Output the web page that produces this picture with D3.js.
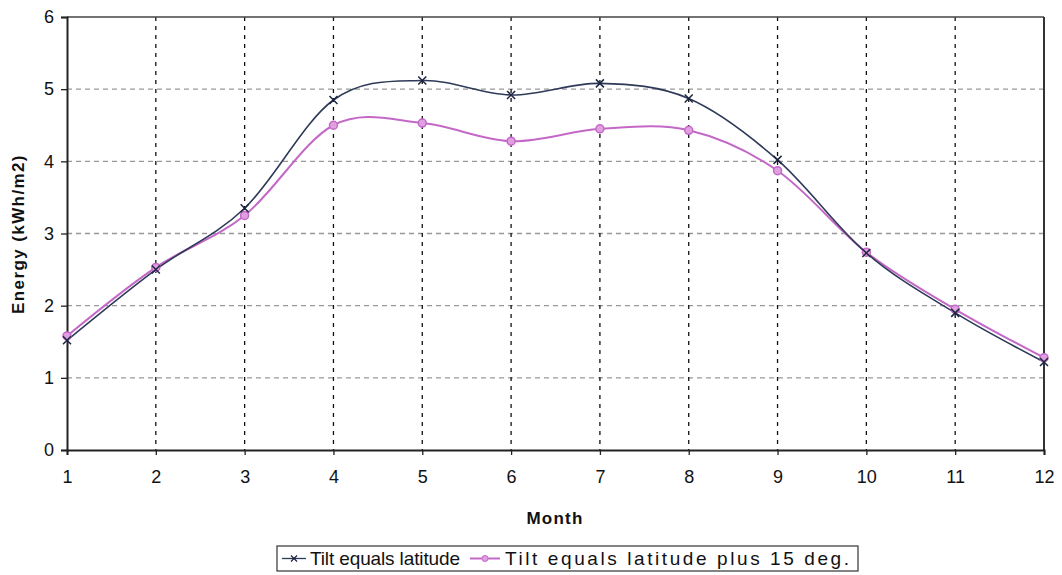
<!DOCTYPE html>
<html><head><meta charset="utf-8">
<script src="https://cdn.jsdelivr.net/npm/d3@7"></script>
<style>body{margin:0;background:#fff;} text{font-family:Arial,"Liberation Sans",sans-serif;}</style>
</head><body><svg id="c" width="1062" height="575"></svg>
<script>
const months = [1,2,3,4,5,6,7,8,9,10,11,12];
const tiltLat = [1.52,2.50,3.35,4.85,5.12,4.92,5.08,4.87,4.02,2.73,1.90,1.22];
const tiltLat15 = [1.58,2.53,3.25,4.50,4.53,4.28,4.45,4.43,3.87,2.74,1.95,1.28];
const yTicks = [0,1,2,3,4,5,6];
const seriesNames = ["Tilt equals latitude","Tilt equals latitude plus 15 deg."];

const svg = d3.select("#c");
const x = d3.scaleLinear().domain([1,12]).range([67,1044]);
const y = d3.scaleLinear().domain([0,6]).range([450,17]);

// horizontal grid
svg.append("g").selectAll("line").data(yTicks.filter(d=>d>0&&d<6)).join("line")
  .attr("x1",x(1)).attr("x2",x(12)).attr("y1",d=>y(d)).attr("y2",d=>y(d))
  .attr("stroke","#999").attr("stroke-width",1.3).attr("stroke-dasharray","5,4");
// vertical grid
svg.append("g").selectAll("line").data(months.filter(d=>d>1&&d<12)).join("line")
  .attr("x1",d=>x(d)).attr("x2",d=>x(d)).attr("y1",y(6)).attr("y2",y(0))
  .attr("stroke","#111").attr("stroke-width",1.3).attr("stroke-dasharray","4,5");

// frame top/right
svg.append("line").attr("x1",x(1)).attr("x2",x(12)).attr("y1",y(6)).attr("y2",y(6)).attr("stroke","#444").attr("stroke-width",1.5);
svg.append("line").attr("x1",x(12)).attr("x2",x(12)).attr("y1",y(6)).attr("y2",y(0)).attr("stroke","#333").attr("stroke-width",2);

// axes
const yAxis = svg.append("g").attr("transform",`translate(${x(1)},0)`)
  .call(d3.axisLeft(y).tickValues(yTicks).tickSize(6).tickPadding(7).tickFormat(d3.format("d")));
const xAxis = svg.append("g").attr("transform",`translate(0,${y(0)})`)
  .call(d3.axisBottom(x).tickValues(months).tickSize(5).tickPadding(15).tickFormat(d3.format("d")));
[yAxis,xAxis].forEach(a=>{
  a.attr("font-size",18).attr("font-family","Arial, 'Liberation Sans', sans-serif");
  a.select(".domain").attr("stroke","#222").attr("stroke-width",2);
  a.selectAll(".tick line").attr("stroke","#222").attr("stroke-width",1.3);
  a.selectAll("text").attr("font-size",18).attr("fill","#111");
});

// lines
const line = d3.line().x((d,i)=>x(months[i])).y(d=>y(d)).curve(d3.curveCardinal.tension(0));
svg.append("path").datum(tiltLat15).attr("d",line).attr("fill","none").attr("stroke","#c468c8").attr("stroke-width",2);
svg.append("path").datum(tiltLat).attr("d",line).attr("fill","none").attr("stroke","#2e3a58").attr("stroke-width",1.6);

// markers
svg.append("g").selectAll("circle").data(tiltLat15).join("circle")
  .attr("cx",(d,i)=>x(months[i])).attr("cy",d=>y(d)).attr("r",4)
  .attr("fill","#e0a0e0").attr("stroke","#c468c8").attr("stroke-width",1.5);
const xs = 4;
svg.append("g").selectAll("path").data(tiltLat).join("path")
  .attr("d",(d,i)=>{const cx=x(months[i]), cy=y(d);return `M${cx-xs},${cy-xs}L${cx+xs},${cy+xs}M${cx-xs},${cy+xs}L${cx+xs},${cy-xs}`;})
  .attr("stroke","#1c2540").attr("stroke-width",1.5);

// axis titles
svg.append("text").attr("x",555).attr("y",524).attr("text-anchor","middle")
  .attr("font-size",17).attr("font-weight","bold").attr("letter-spacing",1.2).attr("fill","#111").text("Month");
svg.append("text").attr("transform","translate(24,234) rotate(-90)").attr("text-anchor","middle")
  .attr("font-size",17).attr("font-weight","bold").attr("letter-spacing",1.4).attr("fill","#111").text("Energy (kWh/m2)");

// legend
const lg = svg.append("g");
lg.append("rect").attr("x",277).attr("y",546).attr("width",581).attr("height",25)
  .attr("fill","#fff").attr("stroke","#333").attr("stroke-width",1.2);
lg.append("line").attr("x1",282).attr("x2",306).attr("y1",558.5).attr("y2",558.5).attr("stroke","#2e3a58").attr("stroke-width",1.3);
lg.append("path").attr("d","M291,555.5L297,561.5M291,561.5L297,555.5").attr("stroke","#1c2540").attr("stroke-width",1.2);
lg.append("text").attr("x",310).attr("y",565).attr("font-size",19).attr("fill","#111")
  .attr("textLength",150).attr("lengthAdjust","spacing").text(seriesNames[0]);
lg.append("line").attr("x1",470).attr("x2",500).attr("y1",558.5).attr("y2",558.5).attr("stroke","#c468c8").attr("stroke-width",2);
lg.append("circle").attr("cx",485).attr("cy",558.5).attr("r",3).attr("fill","#e0a0e0").attr("stroke","#c468c8");
lg.append("text").attr("x",505).attr("y",565).attr("font-size",19).attr("fill","#111")
  .attr("textLength",344).attr("lengthAdjust","spacing").text(seriesNames[1]);
</script></body></html>
